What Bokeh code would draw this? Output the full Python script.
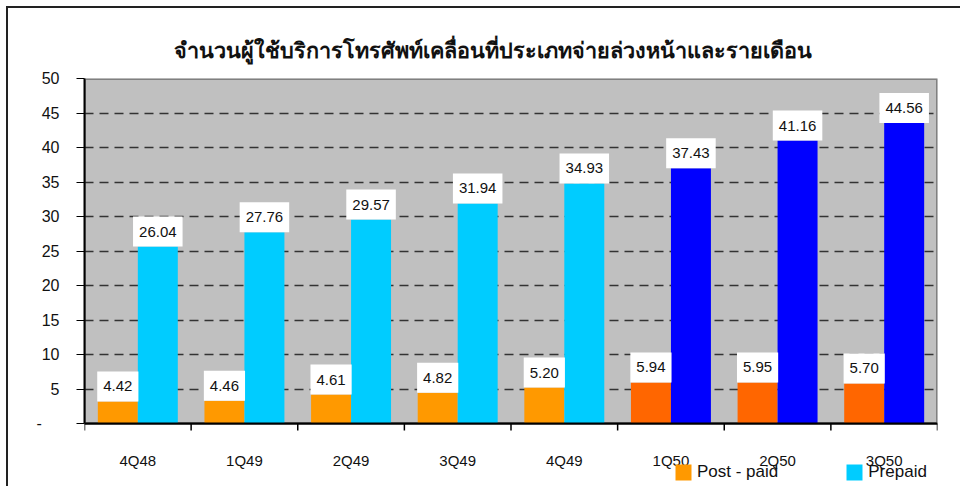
from bokeh.plotting import figure
from bokeh.models import (ColumnDataSource, Range1d, FixedTicker, Legend, LegendItem)
from bokeh.transform import dodge
from bokeh.embed import file_html
from bokeh.resources import INLINE
from bokeh.core.properties import value

# ---------------- data ----------------
title_text = "จำนวนผู้ใช้บริการโทรศัพท์เคลื่อนที่ประเภทจ่ายล่วงหน้าและรายเดือน"
quarters = ["4Q48", "1Q49", "2Q49", "3Q49", "4Q49", "1Q50", "2Q50", "3Q50"]
# bar heights as drawn in the picture
postpaid = [3.2, 3.3, 4.2, 4.45, 5.2, 5.95, 5.95, 5.8]
prepaid = [25.65, 27.7, 29.55, 31.9, 34.8, 37.0, 41.0, 43.55]
# data labels as printed
postpaid_labels = ["4.42", "4.46", "4.61", "4.82", "5.20", "5.94", "5.95", "5.70"]
prepaid_labels = ["26.04", "27.76", "29.57", "31.94", "34.93", "37.43", "41.16", "44.56"]
y_ticks = [0, 5, 10, 15, 20, 25, 30, 35, 40, 45, 50]
series_names = ["Post - paid", "Prepaid"]
highlight_from = "1Q50"

# ---------------- styles ----------------
FONT = "Liberation Sans"
post_colors_base, post_colors_hi = "#FF9900", "#FF6600"
pre_colors_base, pre_colors_hi = "#00CCFF", "#0000FF"
n = len(quarters)
hi_start = quarters.index(highlight_from)
post_colors = [post_colors_hi if i >= hi_start else post_colors_base for i in range(n)]
pre_colors = [pre_colors_hi if i >= hi_start else pre_colors_base for i in range(n)]
centers = [i + 0.5 for i in range(n)]          # category slot centres
boundaries = [float(i) for i in range(n + 1)]  # category slot edges

Y0, Y1 = y_ticks[0], y_ticks[-1]
PLOT_W, PLOT_H = 853, 345     # px of the grey plotting area
EXTRA_H = 63                  # px below the value axis (category labels + legend)
LBL_FS = 15
BOX_H = 30                    # label box height, px
data_per_px = (Y1 - Y0) / PLOT_H


def box_width(s):
    # approx. Arial advance widths: digits 0.556em, '.' 0.278em, plus side padding
    return sum(0.278 if ch == "." else 0.556 for ch in s) * LBL_FS + 12


src = ColumnDataSource(dict(q=quarters, xc=centers, post=postpaid, pre=prepaid,
                            post_lbl=postpaid_labels, pre_lbl=prepaid_labels,
                            post_w=[box_width(s) for s in postpaid_labels],
                            pre_w=[box_width(s) for s in prepaid_labels],
                            post_c=post_colors, pre_c=pre_colors))

p = figure(x_range=Range1d(0, n), y_range=Range1d(Y0 - EXTRA_H * data_per_px, Y1),
           frame_width=PLOT_W, frame_height=PLOT_H + EXTRA_H,
           min_border_left=84, min_border_right=23, min_border_top=78, min_border_bottom=0,
           output_backend="svg", toolbar_location=None,
           x_axis_location=None, y_axis_location="left")

p.background_fill_color = "white"
p.border_fill_alpha = 0
p.outline_line_color = None
p.styles = {"background-color": "white",
            "box-shadow": "inset 6px 6px 0 0 white, inset 8px 8px 0 0 #222222"}

# grey plotting area
bg = p.quad(left=[0], right=[n], bottom=[Y0], top=[Y1],
            fill_color="#C0C0C0", line_color="#808080", line_width=3)
bg.level = "image"

BW = 0.375
r_post = p.vbar(x=dodge("xc", -BW / 2), top="post", width=BW, source=src,
                fill_color="post_c", line_color=None)
r_pre = p.vbar(x=dodge("xc", BW / 2), top="pre", width=BW, source=src,
               fill_color="pre_c", line_color=None)

# data labels: white box sitting on the bar top, value text centred in it
for col, lbl, wcol, off in (("post", "post_lbl", "post_w", -BW / 2),
                            ("pre", "pre_lbl", "pre_w", BW / 2)):
    ymid = dodge(col, BOX_H / 2 * data_per_px)
    p.rect(x=dodge("xc", off), y=ymid, width=wcol, height=BOX_H,
           width_units="screen", height_units="screen", source=src,
           fill_color="white", line_color=None)
    p.text(x=dodge("xc", off), y=ymid, text=lbl, source=src,
           text_align="center", text_baseline="middle",
           text_font=value(FONT), text_font_size=f"{LBL_FS}px", text_color="#111111")

# category axis: base line, slot-edge ticks, labels
p.segment(x0=[0], y0=[Y0], x1=[n], y1=[Y0], line_color="black", line_width=2)
p.segment(x0=boundaries, y0=[Y0] * len(boundaries), x1=boundaries,
          y1=[Y0 - 7 * data_per_px] * len(boundaries), line_color="black", line_width=1.5)
p.text(x=centers, y=[Y0] * n, text=quarters, y_offset=37,
       text_align="center", text_baseline="middle",
       text_font=value(FONT), text_font_size="15px", text_color="#111111")

# grid
p.xgrid.grid_line_color = None
p.ygrid.ticker = FixedTicker(ticks=y_ticks[1:-1])
p.ygrid.grid_line_color = "#333333"
p.ygrid.grid_line_width = 1.5
p.ygrid.grid_line_dash = "9 6"

# y axis
ya = p.yaxis[0]
ya.bounds = (Y0, Y1)
ya.ticker = FixedTicker(ticks=y_ticks)
ya.major_label_overrides = {0: "-" + "\u00a0" * 4}
ya.major_tick_out = 8
ya.major_tick_in = 0
ya.minor_tick_line_color = None
ya.axis_line_width = 2
ya.axis_line_color = "black"
ya.major_tick_line_color = "black"
ya.major_label_standoff = 17
ya.major_label_text_font = FONT
ya.major_label_text_font_size = "16px"
ya.major_label_text_color = "#111111"

# legend at the bottom edge
lg = Legend(items=[LegendItem(label=series_names[0], renderers=[r_post], index=0),
                   LegendItem(label=series_names[1], renderers=[r_pre], index=0)],
            location=(589, 4), orientation="horizontal", spacing=66,
            glyph_width=20, glyph_height=20, label_standoff=4,
            padding=0, margin=0,
            border_line_color=None, background_fill_alpha=0,
            label_text_font=FONT, label_text_font_size="17px", label_text_color="#111111")
p.add_layout(lg)

# title
p.title.text = title_text
p.title.align = "left"
p.title.offset = 89
p.title.standoff = 32
p.title.text_font_size = "21.6px"
p.title.text_font_style = "bold"
p.title.text_color = "#111111"

open("out.html", "w").write(file_html(p, INLINE))
